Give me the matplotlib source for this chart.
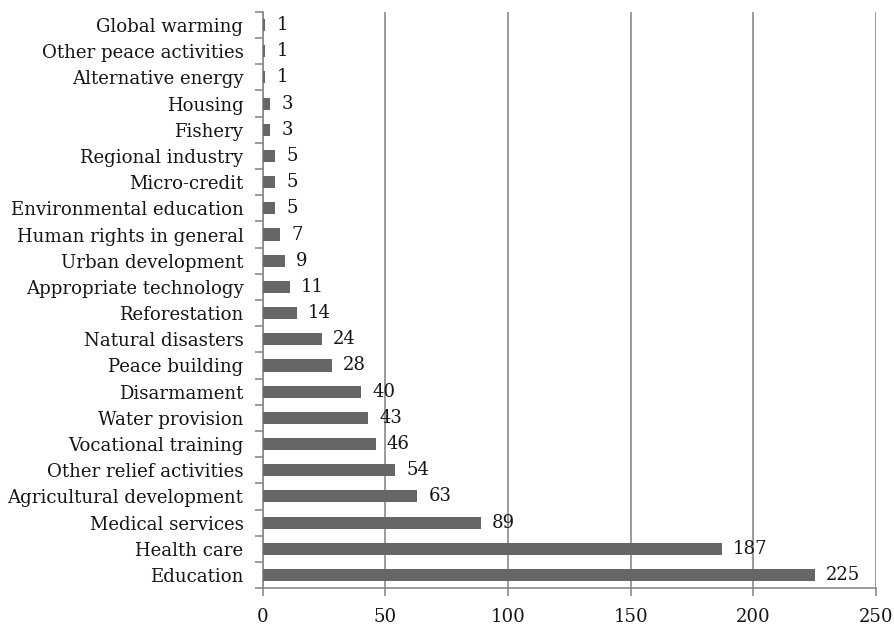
import numpy as np
import matplotlib.pyplot as plt

# categories from bottom to top
categories = ["Education", "Health care", "Medical services", "Agricultural development",
              "Other relief activities", "Vocational training", "Water provision", "Disarmament",
              "Peace building", "Natural disasters", "Reforestation", "Appropriate technology",
              "Urban development", "Human rights in general", "Environmental education",
              "Micro-credit", "Regional industry", "Fishery", "Housing", "Alternative energy",
              "Other peace activities", "Global warming"]
counts = [225, 187, 89, 63, 54, 46, 43, 40, 28, 24, 14, 11, 9, 7, 5, 5, 5, 3, 3, 1, 1, 1]
xticks = [0, 50, 100, 150, 200, 250]

plt.rcParams['font.family'] = ['DejaVu Serif']
fs = 13.1

fig = plt.figure(figsize=(8.94, 6.25), dpi=100)
ax = fig.add_axes([0.294, 0.059, 0.686, 0.922])

grey = '#8a8a8a'
txt = '#151515'
y = np.arange(len(categories))
ax.barh(y, counts, height=0.46, color='#666669', zorder=3)
for yi, c in zip(y, counts):
    ax.text(c + 4.5, yi, str(c), va='center', ha='left', fontsize=fs, color=txt, zorder=4)

ax.set_xlim(0, 250)
ax.set_ylim(-0.5, len(categories) - 0.5)
ax.set_xticks(xticks)
ax.set_yticks(y)
ax.set_yticklabels(categories)
ax.set_yticks(np.arange(-0.5, len(categories)), minor=True)
ax.tick_params(axis='y', which='major', length=0, pad=14, labelsize=fs, labelcolor=txt)
ax.tick_params(axis='y', which='minor', length=6, width=1.2, color=grey, direction='out')
ax.tick_params(axis='x', length=6, width=1.2, color=grey, pad=8, labelsize=fs, labelcolor=txt)

ax.xaxis.grid(True, color=grey, linewidth=1.2, zorder=0)
for s in ['top', 'right']:
    ax.spines[s].set_visible(False)
for s in ['left', 'bottom']:
    ax.spines[s].set_color(grey)
    ax.spines[s].set_linewidth(1.2)

fig.savefig('out.png', dpi=100)
